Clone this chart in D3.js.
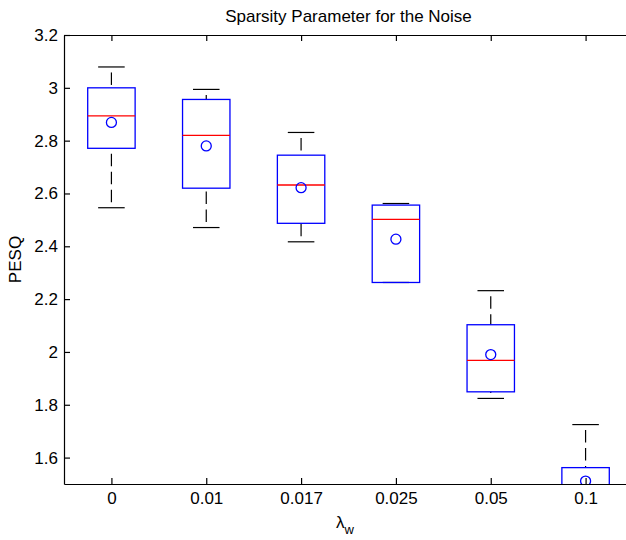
<!DOCTYPE html>
<html>
<head>
<meta charset="utf-8">
<script src="https://cdn.jsdelivr.net/npm/d3@7"></script>
<style>
  body { margin: 0; background: #fff; }
  text { font-family: "Liberation Sans", Arial, sans-serif; fill: #000; }
</style>
</head>
<body>
<div id="chart"></div>
<script>
const categories = ['0', '0.01', '0.017', '0.025', '0.05', '0.1'];
const upperWhisker = [3.079, 2.994, 2.831, 2.562, 2.232, 1.725];
const q3 = [3.000, 2.956, 2.745, 2.556, 2.103, 1.562];
const medians = [2.894, 2.820, 2.632, 2.502, 1.968, 1.470];
const q1 = [2.771, 2.620, 2.487, 2.263, 1.849, 1.400];
const lowerWhisker = [2.546, 2.471, 2.417, 2.263, 1.824, 1.300];
const means = [2.869, 2.780, 2.622, 2.427, 1.990, 1.511];
const yTicks = [1.6, 1.8, 2, 2.2, 2.4, 2.6, 2.8, 3, 3.2];

const AREA_WIDTH = 626;
const AREA_HEIGHT = 540;
const PLOT = { LEFT: 64, RIGHT: 633, TOP: 35, BOTTOM: 484 };
const FONT = 17;

const data = categories.map((c, i) => ({
  cat: c, hi: upperWhisker[i], q3: q3[i], med: medians[i],
  q1: q1[i], lo: lowerWhisker[i], mean: means[i]
}));

const svg = d3.select('#chart')
              .append('svg')
              .attr('width', AREA_WIDTH)
              .attr('height', AREA_HEIGHT);

const x = d3.scalePoint()
            .domain(categories)
            .range([PLOT.LEFT, PLOT.RIGHT])
            .padding(0.5);
const y = d3.scaleLinear()
            .domain([1.5, 3.2])
            .range([PLOT.BOTTOM, PLOT.TOP]);
const step = x.step();
const boxHalf = step * 0.25;
const capHalf = step * 0.14;

svg.append('clipPath')
     .attr('id', 'plotClip')
     .append('rect')
     .attr('x', PLOT.LEFT)
     .attr('y', PLOT.TOP)
     .attr('width', PLOT.RIGHT - PLOT.LEFT)
     .attr('height', PLOT.BOTTOM - PLOT.TOP);

const plot = svg.append('g').attr('clip-path', 'url(#plotClip)');

const boxes = plot.selectAll('g.box')
                  .data(data)
                  .enter()
                  .append('g')
                  .attr('class', 'box');

// whiskers, drawn from cap towards box
const dash = '12.5,5.5';
boxes.append('line')
     .attr('x1', d => x(d.cat)).attr('x2', d => x(d.cat))
     .attr('y1', d => y(d.hi)).attr('y2', d => y(d.q3))
     .attr('stroke', '#000').attr('stroke-width', 1.2)
     .attr('stroke-dasharray', dash).attr('stroke-dashoffset', 12.5);
boxes.append('line')
     .attr('x1', d => x(d.cat)).attr('x2', d => x(d.cat))
     .attr('y1', d => y(d.lo)).attr('y2', d => y(d.q1))
     .attr('stroke', '#000').attr('stroke-width', 1.2)
     .attr('stroke-dasharray', dash).attr('stroke-dashoffset', 12.5);

// caps
boxes.append('line')
     .attr('x1', d => x(d.cat) - capHalf).attr('x2', d => x(d.cat) + capHalf)
     .attr('y1', d => y(d.hi)).attr('y2', d => y(d.hi))
     .attr('stroke', '#000').attr('stroke-width', 1.2);
boxes.append('line')
     .attr('x1', d => x(d.cat) - capHalf).attr('x2', d => x(d.cat) + capHalf)
     .attr('y1', d => y(d.lo)).attr('y2', d => y(d.lo))
     .attr('stroke', '#000').attr('stroke-width', 1.2);

boxes.append('rect')
     .attr('x', d => x(d.cat) - boxHalf)
     .attr('y', d => y(d.q3))
     .attr('width', boxHalf * 2)
     .attr('height', d => y(d.q1) - y(d.q3))
     .attr('fill', 'none')
     .attr('stroke', '#0000ff')
     .attr('stroke-width', 1.3);

boxes.append('line')
     .attr('x1', d => x(d.cat) - boxHalf).attr('x2', d => x(d.cat) + boxHalf)
     .attr('y1', d => y(d.med)).attr('y2', d => y(d.med))
     .attr('stroke', '#ff0000').attr('stroke-width', 1.3);

boxes.append('circle')
     .attr('cx', d => x(d.cat))
     .attr('cy', d => y(d.mean))
     .attr('r', 5)
     .attr('fill', 'none')
     .attr('stroke', '#0000ff')
     .attr('stroke-width', 1.3);

// axes
const fmt = d => d3.format('~g')(d);

const styleAxis = g => {
  g.selectAll('path.domain').attr('stroke', '#000').attr('stroke-width', 1.2);
  g.selectAll('.tick line').attr('stroke', '#000').attr('stroke-width', 1.2);
  g.selectAll('text').attr('font-size', FONT).attr('fill', '#000')
   .style('font-family', '"Liberation Sans", Arial, sans-serif');
};

svg.append('g')
     .attr('transform', `translate(${PLOT.LEFT},0)`)
     .call(d3.axisLeft(y).tickValues(yTicks).tickFormat(fmt)
             .tickSizeInner(-6).tickSizeOuter(0).tickPadding(6))
     .call(styleAxis);

svg.append('g')
     .attr('transform', `translate(0,${PLOT.BOTTOM})`)
     .call(d3.axisBottom(x).tickSizeInner(-6).tickSizeOuter(0).tickPadding(8))
     .call(styleAxis);

svg.append('g')
     .attr('transform', `translate(0,${PLOT.TOP})`)
     .call(d3.axisTop(x).tickFormat('').tickSizeInner(-6).tickSizeOuter(0))
     .call(styleAxis);

svg.append('g')
     .attr('transform', `translate(${PLOT.RIGHT},0)`)
     .call(d3.axisRight(y).tickValues(yTicks).tickFormat('')
             .tickSizeInner(-6).tickSizeOuter(0))
     .call(styleAxis);

// labels
svg.append('text')
     .attr('x', (PLOT.LEFT + PLOT.RIGHT) / 2)
     .attr('y', 22)
     .attr('text-anchor', 'middle')
     .attr('font-size', FONT)
     .text('Sparsity Parameter for the Noise');

svg.append('text')
     .attr('transform', `translate(21, ${(PLOT.TOP + PLOT.BOTTOM) / 2}) rotate(-90)`)
     .attr('text-anchor', 'middle')
     .attr('font-size', FONT)
     .text('PESQ');

const xl = svg.append('text')
                .attr('x', 336)
                .attr('y', 528)
                .attr('font-size', FONT);
xl.append('tspan').text('λ');
xl.append('tspan').attr('dy', 6).attr('font-size', 13).text('w');
</script>
</body>
</html>
